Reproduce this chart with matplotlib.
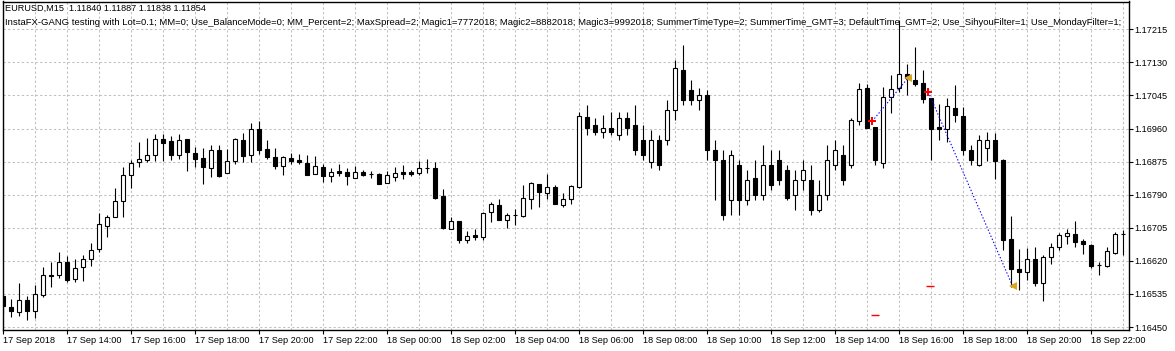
import numpy as np
import matplotlib.pyplot as plt

# EURUSD M15 bars, first bar = 17 Sep 2018 12:00
opens = [1.16530, 1.16501, 1.16490, 1.16519, 1.16492, 1.16532, 1.16585, 1.16585, 1.16616, 1.16573,
         1.16604, 1.16624, 1.16650, 1.16710, 1.16732, 1.16775, 1.16840, 1.16873, 1.16878, 1.16893,
         1.16932, 1.16928, 1.16893, 1.16933, 1.16896, 1.16884, 1.16858, 1.16904, 1.16845, 1.16876,
         1.16930, 1.16892, 1.16959, 1.16907, 1.16887, 1.16864, 1.16885, 1.16880, 1.16871, 1.16843,
         1.16862, 1.16839, 1.16851, 1.16848, 1.16834, 1.16849, 1.16843, 1.16844, 1.16821, 1.16836,
         1.16848, 1.16848, 1.16846, 1.16858, 1.16858, 1.16786, 1.16703, 1.16722, 1.16674, 1.16686,
         1.16682, 1.16745, 1.16763, 1.16725, 1.16738, 1.16736, 1.16780, 1.16817, 1.16795, 1.16809,
         1.16763, 1.16778, 1.16810, 1.16990, 1.16969, 1.16951, 1.16961, 1.16943, 1.16987, 1.16969,
         1.16930, 1.16874, 1.16930, 1.16930, 1.17007, 1.17110, 1.17059, 1.17033, 1.17046, 1.16905,
         1.16879, 1.16776, 1.16866, 1.16776, 1.16833, 1.16789, 1.16866, 1.16879, 1.16853, 1.16789,
         1.16828, 1.16828, 1.16751, 1.16789, 1.16866, 1.16892, 1.16866, 1.16980, 1.17063, 1.16963,
         1.16871, 1.17040, 1.17063, 1.17100, 1.17086, 1.17078, 1.17039, 1.16964, 1.16958, 1.17014,
         1.16992, 1.16906, 1.16866, 1.16910, 1.16930, 1.16879, 1.16675, 1.16599, 1.16592, 1.16624,
         1.16564, 1.16631, 1.16656, 1.16685, 1.16689, 1.16671, 1.16662, 1.16609, 1.16607, 1.16641,
         1.16688]
highs = [1.16532, 1.16521, 1.16562, 1.16530, 1.16558, 1.16604, 1.16616, 1.16642, 1.16632, 1.16625,
         1.16634, 1.16666, 1.16743, 1.16738, 1.16808, 1.16862, 1.16879, 1.16926, 1.16935, 1.16946,
         1.16946, 1.16942, 1.16945, 1.16933, 1.16912, 1.16909, 1.16918, 1.16918, 1.16907, 1.16936,
         1.16948, 1.16974, 1.16980, 1.16930, 1.16909, 1.16889, 1.16896, 1.16895, 1.16892, 1.16890,
         1.16869, 1.16859, 1.16869, 1.16858, 1.16864, 1.16853, 1.16851, 1.16846, 1.16852, 1.16861,
         1.16866, 1.16854, 1.16877, 1.16882, 1.16873, 1.16804, 1.16733, 1.16722, 1.16696, 1.16702,
         1.16746, 1.16772, 1.16779, 1.16742, 1.16753, 1.16814, 1.16823, 1.16817, 1.16843, 1.16815,
         1.16794, 1.16814, 1.17002, 1.17020, 1.16987, 1.16995, 1.17002, 1.17002, 1.17002, 1.17020,
         1.16969, 1.16956, 1.16943, 1.17033, 1.17136, 1.17174, 1.17085, 1.17064, 1.17059, 1.16930,
         1.16905, 1.16905, 1.16879, 1.16853, 1.16879, 1.16918, 1.16905, 1.16905, 1.16866, 1.16853,
         1.16879, 1.16866, 1.16828, 1.16918, 1.16930, 1.16918, 1.16987, 1.17076, 1.17074, 1.16964,
         1.17067, 1.17097, 1.17239, 1.17126, 1.17169, 1.17110, 1.17039, 1.17022, 1.17038, 1.17072,
         1.17016, 1.16918, 1.16943, 1.16951, 1.16948, 1.16883, 1.16735, 1.16650, 1.16652, 1.16655,
         1.16634, 1.16666, 1.16691, 1.16701, 1.16722, 1.16675, 1.16664, 1.16616, 1.16655, 1.16693,
         1.16699]
lows = [1.16483, 1.16476, 1.16479, 1.16468, 1.16474, 1.16528, 1.16554, 1.16577, 1.16567, 1.16566,
        1.16568, 1.16607, 1.16642, 1.16682, 1.16732, 1.16732, 1.16808, 1.16862, 1.16873, 1.16876,
        1.16876, 1.16879, 1.16882, 1.16852, 1.16862, 1.16818, 1.16835, 1.16835, 1.16845, 1.16868,
        1.16875, 1.16875, 1.16895, 1.16881, 1.16856, 1.16840, 1.16870, 1.16870, 1.16841, 1.16843,
        1.16823, 1.16823, 1.16839, 1.16815, 1.16834, 1.16839, 1.16832, 1.16817, 1.16821, 1.16826,
        1.16831, 1.16838, 1.16840, 1.16846, 1.16780, 1.16701, 1.16701, 1.16667, 1.16665, 1.16674,
        1.16674, 1.16721, 1.16725, 1.16704, 1.16713, 1.16733, 1.16753, 1.16758, 1.16780, 1.16767,
        1.16759, 1.16767, 1.16807, 1.16943, 1.16943, 1.16936, 1.16943, 1.16930, 1.16943, 1.16892,
        1.16879, 1.16858, 1.16853, 1.16918, 1.16982, 1.17020, 1.17020, 1.17007, 1.16879, 1.16776,
        1.16725, 1.16738, 1.16738, 1.16763, 1.16776, 1.16776, 1.16802, 1.16815, 1.16776, 1.16751,
        1.16802, 1.16738, 1.16745, 1.16776, 1.16853, 1.16815, 1.16858, 1.16969, 1.16962, 1.16866,
        1.16858, 1.16999, 1.17054, 1.17046, 1.17069, 1.17025, 1.16879, 1.16930, 1.16926, 1.16977,
        1.16892, 1.16866, 1.16863, 1.16877, 1.16830, 1.16648, 1.16554, 1.16545, 1.16571, 1.16555,
        1.16518, 1.16613, 1.16648, 1.16663, 1.16656, 1.16638, 1.16601, 1.16584, 1.16605, 1.16638,
        1.16635]
closes = [1.16503, 1.16492, 1.16519, 1.16492, 1.16535, 1.16583, 1.16581, 1.16616, 1.16571, 1.16603,
          1.16624, 1.16647, 1.16714, 1.16732, 1.16775, 1.16840, 1.16872, 1.16882, 1.16891, 1.16932,
          1.16923, 1.16893, 1.16930, 1.16899, 1.16882, 1.16861, 1.16904, 1.16839, 1.16876, 1.16933,
          1.16890, 1.16959, 1.16906, 1.16886, 1.16864, 1.16887, 1.16876, 1.16874, 1.16841, 1.16864,
          1.16838, 1.16848, 1.16846, 1.16839, 1.16848, 1.16841, 1.16843, 1.16818, 1.16840, 1.16847,
          1.16844, 1.16844, 1.16858, 1.16858, 1.16781, 1.16704, 1.16722, 1.16674, 1.16683, 1.16681,
          1.16743, 1.16767, 1.16725, 1.16737, 1.16738, 1.16781, 1.16820, 1.16796, 1.16810, 1.16767,
          1.16778, 1.16812, 1.16992, 1.16961, 1.16951, 1.16961, 1.16951, 1.16987, 1.16961, 1.16905,
          1.16892, 1.16930, 1.16866, 1.17007, 1.17115, 1.17033, 1.17033, 1.17046, 1.16905, 1.16879,
          1.16738, 1.16892, 1.16776, 1.16828, 1.16789, 1.16866, 1.16815, 1.16828, 1.16781, 1.16828,
          1.16853, 1.16751, 1.16789, 1.16879, 1.16905, 1.16828, 1.16982, 1.17061, 1.16962, 1.16879,
          1.17040, 1.17061, 1.17100, 1.17089, 1.17074, 1.17036, 1.16959, 1.16959, 1.17017, 1.16994,
          1.16904, 1.16879, 1.16930, 1.16930, 1.16877, 1.16674, 1.16600, 1.16592, 1.16624, 1.16564,
          1.16629, 1.16655, 1.16686, 1.16691, 1.16669, 1.16663, 1.16607, 1.16609, 1.16645, 1.16688,
          1.16688]

time_labels = ["17 Sep 2018", "17 Sep 14:00", "17 Sep 16:00", "17 Sep 18:00", "17 Sep 20:00",
               "17 Sep 22:00", "18 Sep 00:00", "18 Sep 02:00", "18 Sep 04:00", "18 Sep 06:00",
               "18 Sep 08:00", "18 Sep 10:00", "18 Sep 12:00", "18 Sep 14:00", "18 Sep 16:00",
               "18 Sep 18:00", "18 Sep 20:00", "18 Sep 22:00"]
price_ticks = [1.16450, 1.16535, 1.16620, 1.16705, 1.16790, 1.16875, 1.16960, 1.17045, 1.17130, 1.17215]

# trades: (open bar, open price, close bar, close price)
trade_open_x = [108.6, 115.6]
trade_open_p = [1.16979, 1.17054]
trade_close_x = [113.1, 126.15]
trade_close_p = [1.17091, 1.16555]
level_x = [109.0, 115.8]
level_p = [1.16480, 1.16555]

header = "EURUSD,M15  1.11840 1.11887 1.11838 1.11854"
params = ("InstaFX-GANG testing with Lot=0.1; MM=0; Use_BalanceMode=0; MM_Percent=2; MaxSpread=2; "
          "Magic1=7772018; Magic2=8882018; Magic3=9992018; SummerTimeType=2; SummerTime_GMT=3; "
          "DefaultTime_GMT=2; Use_SihyouFilter=1; Use_MondayFilter=1;")

plt.rcParams["font.family"] = ["Liberation Sans", "DejaVu Sans"]
FS = 6.6
W, H = 1175, 351
fig = plt.figure(figsize=(W / 100, H / 100), dpi=100)
ax = fig.add_axes([2.5 / W, 1 - 330 / H, (1129 - 2.5) / W, (330 - 1.5) / H])

x = np.arange(len(opens))
o = np.array(opens); c = np.array(closes); hi = np.array(highs); lo = np.array(lows)
up = c >= o

# grid
for gx in range(0, len(opens), 4):
    ax.axvline(gx, color="#c0c0c0", lw=0.75, ls=(0, (2.2, 2.2)), zorder=0)
for gp in price_ticks:
    ax.axhline(gp, color="#c0c0c0", lw=0.75, ls=(0, (2.2, 2.2)), zorder=0)

# candles
ax.vlines(x, lo, hi, color="black", lw=0.8, zorder=2)
ax.bar(x[up], (c - o)[up], bottom=o[up], width=0.5, color="white", edgecolor="black", lw=0.8, zorder=3)
ax.bar(x[~up], (o - c)[~up], bottom=c[~up], width=0.5, color="black", edgecolor="black", lw=0.8, zorder=3)

# trade lines and arrows
for i in range(len(trade_open_x)):
    ax.plot([trade_open_x[i], trade_close_x[i]], [trade_open_p[i], trade_close_p[i]],
            color="blue", lw=0.8, ls=(0, (1.2, 1.8)), zorder=4)
ax.plot(trade_open_x, trade_open_p, "P", color="red", ms=6, mew=0, zorder=5)
ax.plot(trade_close_x, trade_close_p, "<", color="#daa520", ms=6, mew=0, zorder=5)
ax.plot(level_x, level_p, "_", color="red", ms=6, mew=1, zorder=5)

ax.set_xlim(-0.125, 140.69)
ax.set_ylim(1.164425, 1.172864)

ax.set_xticks(np.arange(0, len(opens), 8)[:len(time_labels)])
ax.set_xticklabels(time_labels, ha="left", fontsize=FS)
ax.set_yticks(price_ticks)
ax.set_yticklabels(["%.5f" % p for p in price_ticks], fontsize=FS)
ax.yaxis.tick_right()
ax.tick_params(axis="both", direction="out", length=3, width=0.8, pad=1, colors="black")
for s in ax.spines.values():
    s.set_linewidth(1.0)
    s.set_color("black")

ax.text(5 / W, 1 - 8 / H, header, transform=fig.transFigure, fontsize=FS, va="center", ha="left")
ax.text(5 / W, 1 - 22.5 / H, params, transform=fig.transFigure, fontsize=6.8, va="center", ha="left")

fig.savefig("out.png", dpi=100)
